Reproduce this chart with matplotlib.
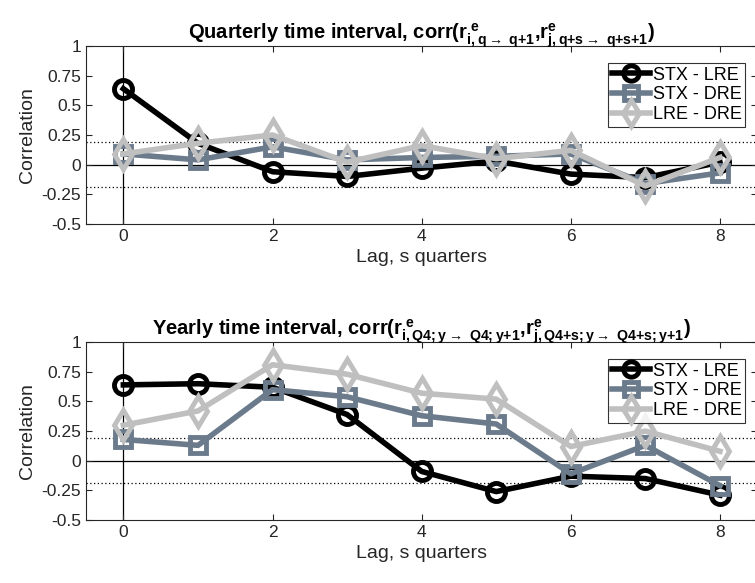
import matplotlib
matplotlib.use("Agg")
import matplotlib.pyplot as plt
from matplotlib import font_manager

# lags and correlations
lags = [0, 1, 2, 3, 4, 5, 6, 7, 8]

q_stx_lre = [0.64, 0.18, -0.06, -0.10, -0.03, 0.03, -0.08, -0.11, 0.02]
q_stx_dre = [0.09, 0.04, 0.15, 0.04, 0.06, 0.07, 0.09, -0.16, -0.07]
q_lre_dre = [0.09, 0.18, 0.25, 0.02, 0.16, 0.05, 0.12, -0.18, 0.06]

y_stx_lre = [0.64, 0.65, 0.62, 0.39, -0.09, -0.26, -0.13, -0.15, -0.29]
y_stx_dre = [0.18, 0.13, 0.60, 0.54, 0.38, 0.31, -0.11, 0.13, -0.21]
y_lre_dre = [0.30, 0.42, 0.81, 0.73, 0.57, 0.52, 0.12, 0.25, 0.08]

series_names = ["STX - LRE", "STX - DRE", "LRE - DRE"]
band = 0.19

yticks = [-0.5, -0.25, 0, 0.25, 0.5, 0.75, 1]
ytick_labels = ["-0.5", "-0.25", "0", "0.25", "0.5", "0.75", "1"]
xticks = [0, 2, 4, 6, 8]

titles = [
    r"Quarterly time interval, corr(r$^{\ e}_{i,q\rightarrow\ q{+}1}$,r$^{e}_{j,q{+}s\rightarrow\ q{+}s{+}1}$)",
    r"Yearly time interval, corr(r$^{\ e}_{i,Q4;y\rightarrow\ Q4;y{+}1}$,r$^{e}_{j,Q4{+}s;y\rightarrow\ Q4{+}s;y{+}1}$)",
]

names = {f.name for f in font_manager.fontManager.ttflist}
narrow = "Liberation Sans Narrow" if "Liberation Sans Narrow" in names else "Liberation Sans"

plt.rcParams["font.family"] = [narrow, "DejaVu Sans"]
plt.rcParams["mathtext.fontset"] = "custom"
plt.rcParams["mathtext.rm"] = narrow + ":bold"
plt.rcParams["mathtext.it"] = narrow + ":bold"
plt.rcParams["mathtext.bf"] = narrow + ":bold"

colors = ["#000000", "#6b7b8c", "#bfbfbf"]
markers = ["o", "s", "d"]
msizes = [13, 12, 15]
axcol = "#262626"

fig = plt.figure(figsize=(7.55, 5.83), dpi=100)
ax_top = fig.add_axes([0.114, 0.616, 0.889, 0.305])
ax_bot = fig.add_axes([0.114, 0.108, 0.889, 0.305])

panels = [
    (ax_top, [q_stx_lre, q_stx_dre, q_lre_dre]),
    (ax_bot, [y_stx_lre, y_stx_dre, y_lre_dre]),
]

for i, (ax, data) in enumerate(panels):
    ax.axhline(0, color="black", lw=0.9, zorder=1)
    ax.axvline(0, color="black", lw=0.9, zorder=1)
    ax.axhline(band, color="black", lw=0.9, ls=(0, (1, 2)), zorder=1)
    ax.axhline(-band, color="black", lw=0.9, ls=(0, (1, 2)), zorder=1)
    for vals, c, m, ms, name in zip(data, colors, markers, msizes, series_names):
        ax.plot(lags, vals, color=c, lw=4, marker=m, markersize=ms,
                markerfacecolor="none", markeredgewidth=3.5, label=name, zorder=3)
    ax.set_xlim(-0.5, 8.5)
    ax.set_ylim(-0.5, 1)
    ax.set_xticks(xticks)
    ax.set_yticks(yticks)
    ax.set_yticklabels(ytick_labels)
    ax.tick_params(direction="in", top=True, right=True, labelsize=12.5,
                   colors=axcol, length=4)
    for sp in ax.spines.values():
        sp.set_color(axcol)
        sp.set_linewidth(0.8)
    ax.set_ylabel("Correlation", fontsize=14, color=axcol)
    ax.set_xlabel("Lag, s quarters", fontsize=14, color=axcol)
    ax.set_title(titles[i], fontsize=14.5, fontweight="bold", pad=5)
    leg = ax.legend(loc="upper right", bbox_to_anchor=(0.982, 0.905),
                    prop={"family": "Liberation Sans", "size": 13},
                    frameon=True, fancybox=False, borderpad=0.2,
                    handlelength=2.1, handletextpad=0.15, labelspacing=0.15,
                    borderaxespad=0, markerscale=0.85)
    leg.get_frame().set_edgecolor("black")
    leg.get_frame().set_linewidth(0.8)

fig.savefig("out.png", dpi=100)
